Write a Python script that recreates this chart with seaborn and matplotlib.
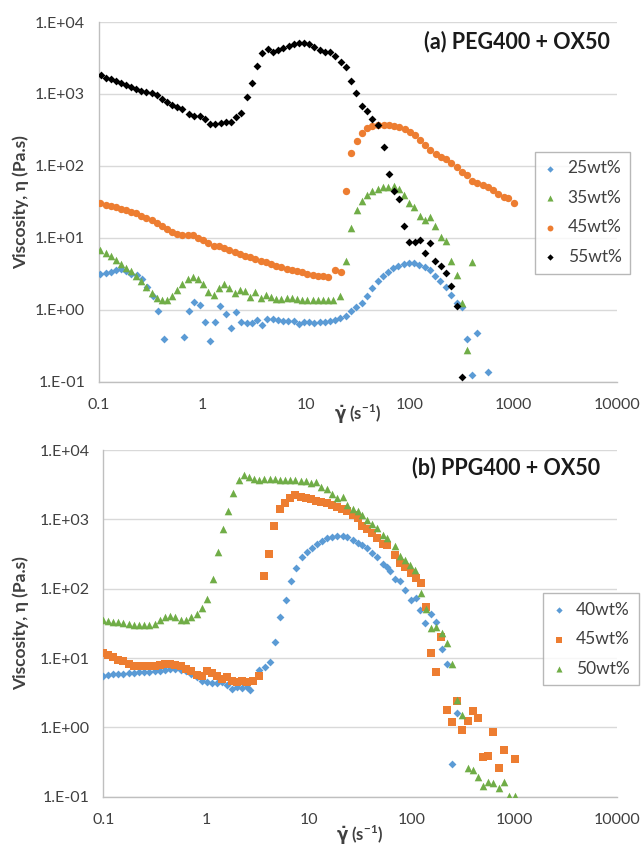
import matplotlib
matplotlib.use("Agg")
import matplotlib.pyplot as plt
import numpy as np
import pandas as pd
import seaborn as sns
from matplotlib.ticker import FixedLocator, FixedFormatter, NullLocator

# ---------------- data: panel (a) PEG400 + OX50 ----------------
a25_x = [0.102, 0.116, 0.130, 0.145, 0.163, 0.182, 0.204, 0.231, 0.260, 0.293, 0.330, 0.369, 0.422,
         0.664, 0.748, 0.836, 0.942, 1.052, 1.186, 1.324, 1.489, 1.679, 1.875, 2.113, 2.360, 2.661,
         2.972, 3.350, 3.767, 4.217, 4.742, 5.309, 5.984, 6.730, 7.586, 8.531, 9.528, 10.74, 11.99,
         13.52, 15.21, 17.02, 19.14, 21.43, 24.10, 27.16, 30.55, 34.67, 38.82, 43.65, 49.20, 55.34,
         61.94, 69.66, 77.98, 87.70, 98.86, 110.4, 124.5, 140.0, 156.7, 176.2, 198.6, 223.4, 251.8,
         283.8, 319.2, 359.7, 404.6, 449.8, 575.4]
a25_y = [3.13, 3.23, 3.37, 3.60, 3.67, 3.48, 3.16, 3.03, 2.67, 2.07, 1.53, 0.95, 0.395,
         0.422, 0.95, 1.29, 1.16, 0.674, 0.363, 0.667, 1.11, 0.871, 0.562, 0.918, 0.674, 0.646,
         0.646, 0.718, 0.605, 0.741, 0.741, 0.711, 0.689, 0.689, 0.689, 0.639, 0.674, 0.667, 0.653,
         0.667, 0.667, 0.689, 0.726, 0.758, 0.826, 0.95, 1.08, 1.26, 1.56, 2.00, 2.48, 2.90,
         3.40, 3.79, 4.08, 4.31, 4.45, 4.45, 4.22, 3.87, 3.52, 2.96, 2.48, 2.04, 1.61,
         1.24, 1.08, 0.395, 0.125, 0.474, 0.136]

a35_x = [0.102, 0.116, 0.130, 0.145, 0.163, 0.182, 0.204, 0.228, 0.256, 0.287, 0.323, 0.361, 0.406,
         0.455, 0.512, 0.573, 0.640, 0.721, 0.805, 0.906, 1.021, 1.140, 1.285, 1.435, 1.618, 1.807,
         2.037, 2.275, 2.564, 2.884, 3.228, 3.631, 4.064, 4.571, 5.152, 5.754, 6.486, 7.244, 8.166,
         9.120, 10.28, 11.56, 12.94, 14.55, 16.29, 18.30, 21.43, 24.49, 27.35, 31.05, 34.67, 38.82,
         43.35, 49.20, 55.34, 61.52, 70.31, 79.07, 89.13, 99.54, 111.2, 125.3, 141.3, 158.9, 177.8,
         200.0, 225.4, 253.5, 283.8, 321.4, 359.7, 404.6]
a35_y = [6.81, 6.25, 5.62, 4.95, 4.26, 3.80, 3.41, 2.90, 2.48, 2.07, 1.70, 1.48, 1.35,
         1.35, 1.53, 1.90, 2.30, 2.67, 2.84, 2.67, 2.27, 1.74, 1.61, 2.00, 2.30, 2.00,
         1.70, 1.90, 1.80, 1.50, 1.74, 1.45, 1.61, 1.50, 1.42, 1.42, 1.48, 1.48, 1.41,
         1.36, 1.36, 1.36, 1.36, 1.35, 1.37, 1.37, 1.53, 4.69, 13.6, 24.0, 33.0, 39.5,
         44.1, 48.0, 50.6, 51.6, 53.3, 48.0, 39.5, 30.3, 26.7, 19.8, 17.8, 19.4, 14.8,
         10.2, 9.08, 4.80, 3.06, 1.24, 0.278, 4.59]

a45_x = [0.102, 0.116, 0.130, 0.145, 0.163, 0.182, 0.204, 0.228, 0.256, 0.287, 0.323, 0.361, 0.406,
         0.455, 0.512, 0.573, 0.640, 0.721, 0.805, 0.906, 1.021, 1.140, 1.285, 1.435, 1.618, 1.807,
         2.037, 2.275, 2.564, 2.884, 3.228, 3.631, 4.064, 4.571, 5.152, 5.754, 6.486, 7.244, 8.166,
         9.120, 10.28, 11.56, 12.94, 14.55, 16.29, 19.05, 21.93, 24.15, 27.35, 31.05, 34.67, 38.82,
         43.35, 49.55, 56.23, 62.81, 71.29, 79.62, 89.74, 101.2, 113.0, 126.2, 142.2, 158.9, 179.1,
         200.0, 225.4, 251.8, 283.8, 319.2, 357.3, 401.8, 449.8, 505.8, 570.2, 636.8, 717.8, 807.2,
         889.2, 1016]
a45_y = [30.3, 29.0, 27.8, 26.7, 25.5, 24.2, 23.2, 21.8, 20.4, 19.0, 17.6, 16.0, 14.5,
         13.2, 12.0, 11.2, 10.9, 10.8, 10.8, 10.1, 9.29, 8.43, 7.74, 7.59, 7.11, 6.67,
         6.32, 6.00, 5.62, 5.33, 5.06, 4.80, 4.54, 4.31, 4.08, 3.92, 3.71, 3.60, 3.44,
         3.30, 3.16, 3.06, 2.96, 2.90, 2.84, 3.56, 3.33, 45.0, 150, 222, 290, 340,
         360, 367, 375, 367, 360, 344, 327, 300, 270, 230, 196, 167, 145,
         135, 124, 111, 98.0, 83.4, 73.5, 61.9, 58.7, 54.5, 50.6, 46.9, 40.5, 36.7,
         35.6, 30.3]

a55_x = [0.104, 0.116, 0.130, 0.145, 0.162, 0.181, 0.204, 0.228, 0.256, 0.287, 0.323, 0.361, 0.406,
         0.455, 0.512, 0.573, 0.640, 0.741, 0.836, 0.942, 1.052, 1.186, 1.334, 1.503, 1.679, 1.892,
         2.128, 2.377, 2.679, 2.992, 3.350, 3.767, 4.246, 4.786, 5.346, 6.012, 6.776, 7.568, 8.531,
         9.528, 10.74, 11.99, 13.52, 15.21, 17.14, 19.14, 21.58, 24.10, 27.16, 30.55, 34.67, 39.08,
         43.65, 49.89, 56.23, 62.81, 71.29, 79.62, 89.13, 99.54, 112.2, 125.3, 140.0, 158.9, 177.8,
         200.0, 225.4, 251.8, 283.8, 321.4]
a55_y = [1820, 1690, 1600, 1500, 1420, 1350, 1240, 1160, 1110, 1080, 1030, 957, 861,
         782, 697, 659, 625, 533, 490, 500, 445, 379, 387, 392, 408, 413,
         474, 540, 918, 1420, 2420, 3750, 4270, 3870, 4040, 4360, 4650, 4940, 5160,
         5100, 5000, 4500, 4080, 3790, 3830, 3370, 2810, 2370, 1530, 1020, 681, 581,
         445, 375, 185, 78.2, 45.0, 35.2, 14.4, 8.79, 8.61, 9.18, 6.07, 8.43, 4.69,
         4.08, 3.20, 2.11, 1.11, 0.117]

# ---------------- data: panel (b) PPG400 + OX50 ----------------
b40_x = [0.099, 0.112, 0.125, 0.140, 0.157, 0.178, 0.199, 0.224, 0.251, 0.281, 0.318, 0.356, 0.402,
         0.446, 0.502, 0.566, 0.638, 0.714, 0.811, 0.908, 1.016, 1.138, 1.271, 1.422, 1.589, 1.791,
         2.018, 2.259, 2.523, 2.679, 3.304, 3.750, 4.198, 4.699, 5.260, 5.970, 6.668, 7.516, 8.531,
         9.550, 10.69, 11.97, 13.49, 15.17, 16.98, 19.01, 21.43, 23.77, 26.79, 30.00, 32.81, 36.64,
         41.02, 46.56, 52.48, 58.34, 61.94, 69.18, 77.45, 87.30, 98.40, 109.9, 121.1, 135.5, 155.2,
         173.8, 197.2, 220.3, 250.6, 279.9]
b40_y = [5.55, 5.73, 5.79, 5.92, 5.92, 6.05, 6.05, 6.19, 6.19, 6.27, 6.40, 6.55, 6.76,
         6.92, 6.92, 6.76, 6.40, 5.92, 5.30, 4.69, 4.44, 4.34, 4.34, 4.44, 4.02, 3.56,
         3.80, 3.72, 3.80, 3.48, 6.76, 7.31, 8.63, 16.9, 39.6, 69.0, 127, 200, 284,
         335, 392, 443, 494, 533, 552, 577, 577, 552, 505, 462, 427, 383,
         332, 284, 228, 208, 182, 137, 127, 96.2, 69.0, 72.9, 49.5, 32.5, 43.4,
         33.6, 13.4, 8.17, 0.296, 1.61]

b45_x = [0.099, 0.112, 0.125, 0.140, 0.157, 0.178, 0.199, 0.224, 0.251, 0.281, 0.318, 0.356, 0.402,
         0.446, 0.502, 0.566, 0.638, 0.714, 0.811, 0.908, 1.016, 1.138, 1.271, 1.422, 1.589, 1.791,
         2.018, 2.259, 2.523, 2.844, 3.304, 3.673, 4.140, 4.624, 5.212, 5.875, 6.577, 7.413, 8.356,
         9.333, 10.52, 11.86, 13.27, 14.96, 16.75, 18.71, 20.94, 23.77, 26.79, 30.00, 32.81, 36.64,
         41.02, 46.56, 52.48, 58.34, 69.18, 77.45, 87.30, 98.40, 109.9, 123.0, 138.7, 155.2, 173.8,
         194.1, 220.3, 246.6, 279.9, 313.3, 353.2, 395.4, 445.7, 497.7, 561.0, 628.1, 712.8, 798.0,
         1014]
b45_y = [11.7, 11.1, 10.3, 9.42, 8.91, 8.24, 7.80, 7.55, 7.55, 7.55, 7.80, 7.98, 8.24,
         8.24, 7.98, 7.55, 6.98, 6.55, 5.73, 5.42, 6.40, 6.05, 5.42, 5.01, 5.24, 4.69,
         4.49, 4.74, 4.44, 4.69, 5.42, 150, 321, 813, 1430, 1710, 2010, 2250, 2130,
         2010, 1950, 1860, 1800, 1710, 1610, 1490, 1410, 1310, 1170, 1060, 813, 719,
         630, 546, 443, 428, 307, 233, 208, 167, 142, 120, 55.2, 11.7, 6.25,
         20.0, 1.79, 1.19, 2.37, 0.923, 1.24, 1.70, 1.36, 0.373, 0.390, 0.855, 0.259, 0.475,
         0.349]

b50_x = [0.099, 0.112, 0.125, 0.140, 0.157, 0.178, 0.199, 0.224, 0.251, 0.281, 0.318, 0.356, 0.402,
         0.446, 0.502, 0.566, 0.638, 0.714, 0.811, 0.908, 1.016, 1.161, 1.300, 1.476, 1.648, 1.845,
         2.094, 2.344, 2.624, 2.931, 3.304, 3.698, 4.169, 4.667, 5.260, 5.875, 6.622, 7.413, 8.356,
         9.333, 10.52, 11.86, 13.27, 14.96, 16.75, 18.71, 21.43, 23.77, 26.79, 30.00, 32.81, 36.64,
         41.02, 45.92, 52.48, 58.34, 69.18, 77.45, 87.30, 96.83, 109.1, 123.0, 138.7, 155.2, 173.8,
         197.2, 220.3, 250.6, 279.9, 313.3, 353.2, 395.4, 445.7, 497.7, 561.0, 628.1, 712.8, 798.0,
         899.5, 1014]
b50_y = [35.5, 34.4, 33.6, 32.9, 31.8, 31.1, 30.4, 29.8, 29.8, 29.8, 31.1, 34.8, 39.6,
         41.0, 38.8, 35.5, 35.5, 38.8, 42.9, 53.5, 70.8, 140, 343, 719, 1320, 2380,
         3700, 4370, 4130, 3780, 3700, 3780, 3780, 3780, 3700, 3700, 3700, 3700, 3610,
         3540, 3310, 3460, 2970, 2740, 2320, 2010, 2130, 1610, 1400, 1320, 1160, 979,
         849, 743, 596, 533, 414, 297, 260, 220, 187, 87.9, 51.3, 27.5, 28.4,
         23.3, 16.4, 8.17, 2.50, 1.49, 0.259, 0.245, 0.192, 0.144, 0.161, 0.158, 0.134, 0.161,
         0.103, 0.103]

decade_ticks = [0.1, 1, 10, 100, 1000, 10000]
x_tick_labels = ["0.1", "1", "10", "100", "1000", "10000"]
y_tick_labels = ["1.E-01", "1.E+00", "1.E+01", "1.E+02", "1.E+03", "1.E+04"]

BLUE, ORANGE, GREEN, BLACK = "#5B9BD5", "#ED7D31", "#70AD47", "#000000"

panel_a = [("25wt%", a25_x, a25_y, BLUE, "D", 16),
           ("35wt%", a35_x, a35_y, GREEN, "^", 30),
           ("45wt%", a45_x, a45_y, ORANGE, "o", 28),
           ("55wt%", a55_x, a55_y, BLACK, "D", 16)]
panel_b = [("40wt%", b40_x, b40_y, BLUE, "D", 16),
           ("45wt%", b45_x, b45_y, ORANGE, "s", 28),
           ("50wt%", b50_x, b50_y, GREEN, "^", 30)]

sns.set_style("white")
plt.rcParams["font.family"] = ["Lato", "DejaVu Sans"]
plt.rcParams["mathtext.fontset"] = "custom"
plt.rcParams["mathtext.rm"] = "DejaVu Sans:bold"
plt.rcParams["mathtext.it"] = "DejaVu Sans:bold"
plt.rcParams["mathtext.bf"] = "DejaVu Sans:bold"

W, H = 642, 851
fig = plt.figure(figsize=(W / 100, H / 100), dpi=100)
ax1 = fig.add_axes([99 / W, 1 - 381.7 / H, (616.7 - 99) / W, (381.7 - 22) / H])
ax2 = fig.add_axes([103.3 / W, 1 - 796.7 / H, (616.7 - 103.3) / W, (796.7 - 450) / H])

GRID = "#d9d9d9"
SPINE = "#bfbfbf"
TXT = "#404040"


def draw(ax, series, title, title_xy, legend_box):
    for label, xs, ys, color, marker, size in series:
        df = pd.DataFrame({"shear": xs, "visc": ys})
        sns.scatterplot(data=df, x="shear", y="visc", ax=ax, color=color, marker=marker,
                        s=size, linewidth=0, label=label, zorder=3)
    ax.set_xscale("log")
    ax.set_yscale("log")
    ax.set_xlim(0.1, 10000)
    ax.set_ylim(0.1, 10000)
    ax.xaxis.set_major_locator(FixedLocator(decade_ticks))
    ax.xaxis.set_major_formatter(FixedFormatter(x_tick_labels))
    ax.yaxis.set_major_locator(FixedLocator(decade_ticks))
    ax.yaxis.set_major_formatter(FixedFormatter(y_tick_labels))
    ax.xaxis.set_minor_locator(NullLocator())
    ax.yaxis.set_minor_locator(NullLocator())
    ax.yaxis.grid(True, color=GRID, lw=1.0, zorder=0)
    ax.xaxis.grid(False)
    ax.set_axisbelow(True)
    for side in ("top", "right"):
        ax.spines[side].set_visible(False)
    for side in ("left", "bottom"):
        ax.spines[side].set_color(SPINE)
        ax.spines[side].set_linewidth(1.0)
    ax.tick_params(axis="x", direction="out", length=4, width=1, color=SPINE,
                   labelsize=11.5, labelcolor=TXT, pad=8)
    ax.tick_params(axis="y", direction="out", length=4, width=1, color=SPINE,
                   labelsize=11.5, labelcolor=TXT, pad=6)
    ax.set_xlabel(r"$\dot{\gamma}$ (s$^{\mathregular{-1}}$)", fontsize=12, fontweight="bold", color=TXT)
    ax.set_ylabel("Viscosity, η (Pa.s)", fontsize=12.5, fontweight="bold", color=TXT)
    ax.text(title_xy[0], title_xy[1], title, transform=ax.transAxes, ha="right", va="center",
            fontsize=15.5, fontweight="bold", color="#1a1a1a")
    leg = ax.legend(loc="upper left", bbox_to_anchor=legend_box, bbox_transform=fig.transFigure,
                    borderaxespad=0, fancybox=False, frameon=True, fontsize=12.5,
                    handlelength=0.8, handletextpad=0.6, labelspacing=0.78,
                    borderpad=0.5, markerscale=0.8)
    leg.get_frame().set_edgecolor("#a6a6a6")
    leg.get_frame().set_linewidth(1.0)
    for t in leg.get_texts():
        t.set_color(TXT)


draw(ax1, panel_a, "(a) PEG400 + OX50", ((610 - 99) / 517.7, (381.7 - 42) / 359.7),
     (534.7 / W, 1 - 151.7 / H))
draw(ax2, panel_b, "(b) PPG400 + OX50", ((600 - 103.3) / 513.4, (796.7 - 468) / 346.7),
     (543 / W, 1 - 593 / H))

ax1.xaxis.set_label_coords((358 - 99) / 517.7, (381.7 - 403) / 359.7)
ax2.xaxis.set_label_coords((360 - 103.3) / 513.4, (796.7 - 824) / 346.7)
ax1.yaxis.set_label_coords((29 - 99) / 517.7, 0.5)
ax2.yaxis.set_label_coords((29 - 103.3) / 513.4, 0.5)

fig.savefig("out.png", dpi=100)
